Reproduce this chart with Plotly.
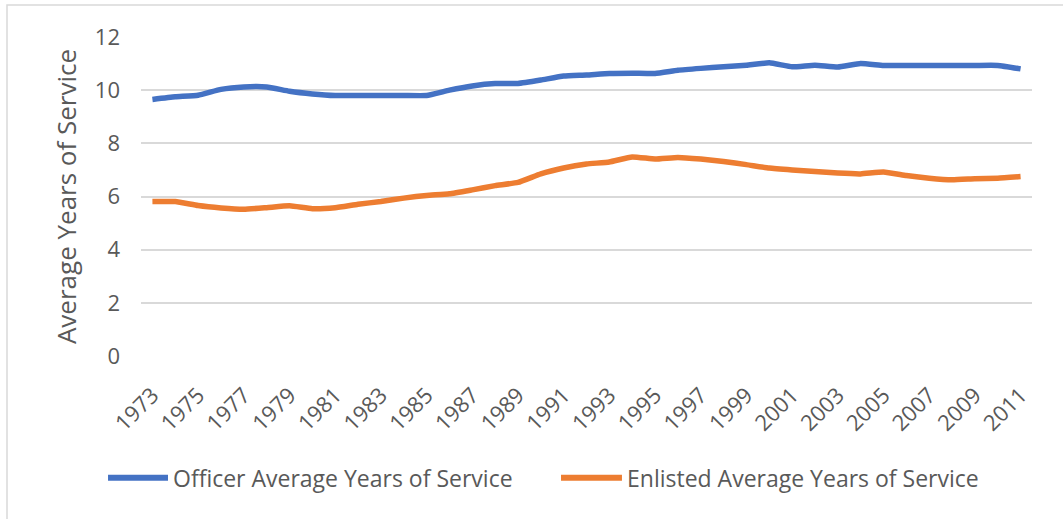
import plotly.graph_objects as go

years = [str(y) for y in range(1973, 2012)]

officer_years = [
    9.65, 9.75, 9.81, 10.03, 10.12, 10.12, 9.96, 9.86, 9.80, 9.80,
    9.80, 9.80, 9.80, 10.00, 10.16, 10.25, 10.25, 10.38, 10.53, 10.57,
    10.63, 10.64, 10.63, 10.75, 10.82, 10.88, 10.94, 11.03, 10.88, 10.94,
    10.87, 11.00, 10.93, 10.93, 10.93, 10.93, 10.93, 10.93, 10.80,
]

enlisted_years = [
    5.81, 5.81, 5.66, 5.57, 5.52, 5.58, 5.65, 5.54, 5.58, 5.71,
    5.81, 5.94, 6.04, 6.10, 6.25, 6.41, 6.53, 6.85, 7.07, 7.22,
    7.30, 7.49, 7.41, 7.47, 7.41, 7.32, 7.20, 7.07, 7.00, 6.94,
    6.88, 6.85, 6.92, 6.79, 6.69, 6.63, 6.67, 6.69, 6.75,
]

series_names = ["Officer Average Years of Service", "Enlisted Average Years of Service"]
series_colors = ["#4472C4", "#ED7D31"]
y_ticks = [0, 2, 4, 6, 8, 10, 12]
x_ticks = years[::2]

FONT = "Open Sans"
GREY = "#595959"

fig = go.Figure()
for name, vals, color in zip(series_names, [officer_years, enlisted_years], series_colors):
    fig.add_trace(go.Scatter(
        x=years, y=vals, name=name, mode="lines",
        line=dict(color=color, width=5.5, shape="spline", smoothing=0.4),
        showlegend=False,
    ))

# hand-built legend row below the axis
legend_items = [
    (series_names[0], series_colors[0], -0.037, 0.0303),
    (series_names[1], series_colors[1], 0.4714, 0.5398),
]
legend_y = -0.382
for name, color, x0, x1 in legend_items:
    fig.add_shape(type="line", xref="paper", yref="paper",
                  x0=x0, x1=x1, y0=legend_y, y1=legend_y,
                  line=dict(color=color, width=6))
    fig.add_annotation(xref="paper", yref="paper", x=x1 + 0.003, y=legend_y,
                       text=name, showarrow=False, xanchor="left", yanchor="middle",
                       font=dict(family=FONT, size=23, color=GREY))

# chart frame (top and left edges fall inside the page)
fig.add_shape(type="rect", xref="paper", yref="paper",
              x0=-0.1504, x1=1.1, y0=(356 - 5) / 319, y1=-0.6,
              line=dict(color="#D9D9D9", width=1.5), layer="below")

fig.update_layout(
    width=1063, height=519,
    margin=dict(l=141, r=31, t=37, b=163),
    paper_bgcolor="white", plot_bgcolor="white",
    font=dict(family=FONT, color=GREY),
)
fig.update_xaxes(
    type="category", tickmode="array", tickvals=x_ticks, ticktext=x_ticks,
    range=[-0.5, len(years) - 0.5],
    tickangle=-45, tickfont=dict(size=22, color=GREY),
    showgrid=False, showline=False, zeroline=False, ticks="",
    ticklabelstandoff=21,
)
fig.update_yaxes(
    range=[0, 12], tickvals=y_ticks, tickfont=dict(size=22, color=GREY),
    showgrid=True, gridcolor="#D9D9D9", gridwidth=1.5,
    zeroline=False, showline=False, ticks="", ticklabelstandoff=20,
    title=dict(text="Average Years of Service", font=dict(size=26, color=GREY), standoff=10),
)

fig.write_html("out.html")
